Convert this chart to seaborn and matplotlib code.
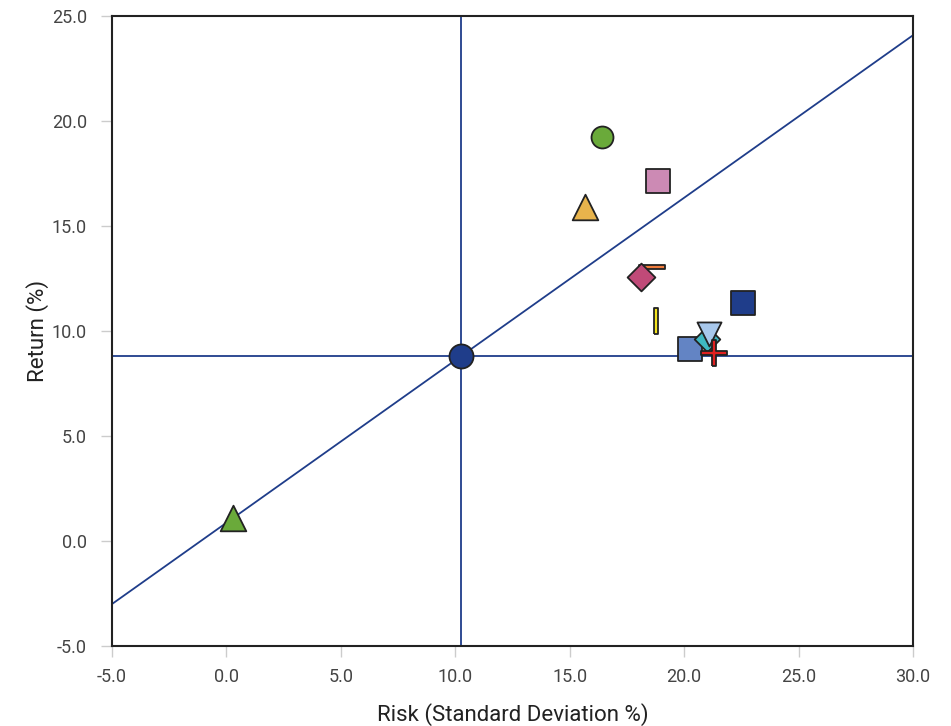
import matplotlib
matplotlib.use("Agg")
import matplotlib.pyplot as plt
import seaborn as sns
import pandas as pd
import numpy as np
from matplotlib import font_manager

sns.set_theme(style="white")
names = [f.name for f in font_manager.fontManager.ttflist]
fam = "Liberation Sans Narrow" if "Liberation Sans Narrow" in names else "Roboto"
plt.rcParams['font.family'] = [fam, 'DejaVu Sans']

# Data
series = ["Risk-free", "Benchmark", "Fund A", "Fund B", "Fund C", "Fund D", "Fund E",
          "Fund F", "Fund G", "Fund H", "Fund I", "Fund J", "Fund K"]
risk = [0.3, 10.25, 16.4, 18.85, 15.65, 18.6, 18.1, 18.75, 22.55, 21.0, 21.1, 20.25, 21.3]
ret = [1.1, 8.8, 19.25, 17.15, 15.9, 13.05, 12.55, 10.5, 11.35, 9.6, 9.85, 9.15, 8.95]
colors = ["#6aaa3a", "#1f3d8a", "#6aaa3a", "#cc8ab4", "#e8b44c", "#f07c3c", "#c04a78",
          "#f2e21e", "#1f3d8a", "#3fb8c2", "#a8c8ec", "#6384c4", "#e02020"]

vbar = [(-0.15, -1), (0.15, -1), (0.15, 1), (-0.15, 1), (-0.15, -1)]
hbar = [(-1, -0.13), (1, -0.13), (1, 0.13), (-1, 0.13), (-1, -0.13)]
w = 0.13
plus = [(-w, -1), (w, -1), (w, -w), (1, -w), (1, w), (w, w), (w, 1), (-w, 1),
        (-w, w), (-1, w), (-1, -w), (-w, -w), (-w, -1)]
markers = ["^", "o", "o", "s", "^", hbar, "D", vbar, "s", "D", "v", "s", plus]
sizes = [340, 300, 250, 280, 340, 330, 200, 330, 280, 170, 300, 290, 330]

xticks = [-5.0, 0.0, 5.0, 10.0, 15.0, 20.0, 25.0, 30.0]
yticks = [-5.0, 0.0, 5.0, 10.0, 15.0, 20.0, 25.0]

df = pd.DataFrame({"series": series, "risk": risk, "ret": ret})

fig = plt.figure(figsize=(9.51, 7.26), dpi=100)
ax = fig.add_axes([112/951, 80/726, 801/951, 630/726])

navy = "#1f3d8a"
bx, by = risk[1], ret[1]
rx, ry = risk[0], ret[0]
slope = (by - ry) / (bx - rx)
ax.axhline(by, color=navy, lw=1.3, zorder=1)
ax.axvline(bx, color=navy, lw=1.3, zorder=1)
xs = np.array([-5.0, 30.0])
ax.plot(xs, ry + slope * (xs - rx), color=navy, lw=1.3, zorder=1)

order = [0, 2, 3, 4, 5, 6, 7, 8, 11, 9, 10, 12, 1]
for i in order:
    sns.scatterplot(data=df.iloc[[i]], x="risk", y="ret", marker=markers[i], s=sizes[i],
                    color=colors[i], edgecolor="#222222", linewidth=1.3, ax=ax,
                    zorder=3 if i != 1 else 4, legend=False)

ax.set_xlim(-5, 30)
ax.set_ylim(-5, 25)
ax.set_xticks(xticks)
ax.set_yticks(yticks)
ax.set_xticklabels([f"{t:.1f}" for t in xticks])
ax.set_yticklabels([f"{t:.1f}" for t in yticks])
ax.tick_params(axis="both", which="both", length=8, width=1, color="#cccccc",
               labelcolor="#444444", labelsize=13, bottom=True, left=True, direction="out")
ax.tick_params(axis="x", pad=8)
ax.tick_params(axis="y", pad=10)
for sp in ax.spines.values():
    sp.set_color("#222222")
    sp.set_linewidth(1.5)
ax.set_xlabel("Risk (Standard Deviation %)", fontsize=16, color="#222222", labelpad=12)
ax.set_ylabel("Return (%)", fontsize=16, color="#222222", labelpad=2)

fig.savefig("out.png", dpi=100)
